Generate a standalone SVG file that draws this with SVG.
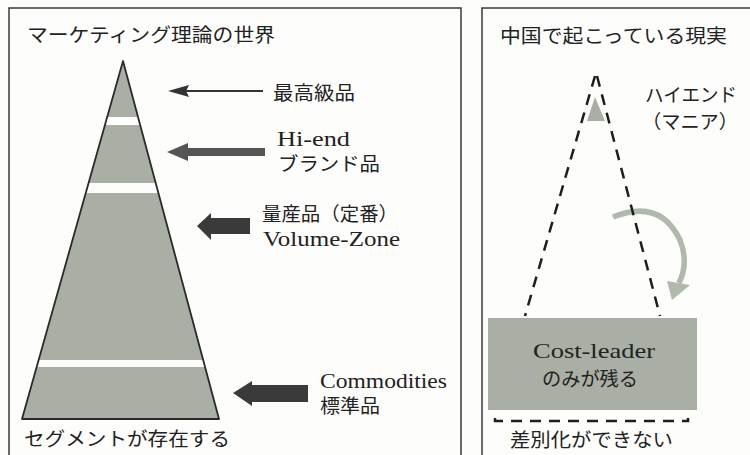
<svg xmlns="http://www.w3.org/2000/svg" width="750" height="455" viewBox="0 0 750 455">
<defs>
<style>
.frame{fill:none;stroke:#3a3a3a;stroke-width:1.5}
.jp{font-family:"Noto Sans CJK JP","Noto Sans",sans-serif;font-size:19px;fill:#222}
.en{font-family:"Liberation Serif","Noto Sans CJK JP",serif;font-size:22px;fill:#222}
.shade{fill:#a9afa5}
.dash{fill:none;stroke:#1e1e1e;stroke-width:2.5;stroke-dasharray:11 8}
</style>
<clipPath id="triClip"><polygon points="123,61 22,419 219,419"/></clipPath>
</defs>
<rect width="750" height="455" fill="#fdfdfb"/>

<g id="left-panel">
<path class="frame" d="M9,456 V8 H461 V456"/>
<text class="jp" x="27" y="42" textLength="248" lengthAdjust="spacingAndGlyphs">マーケティング理論の世界</text>
<text class="jp" x="24" y="446" textLength="206" lengthAdjust="spacingAndGlyphs">セグメントが存在する</text>
</g>

<g id="pyramid">
<polygon class="shade" points="123,61 22,419 219,419"/>
<g clip-path="url(#triClip)" fill="#fdfdfb">
<rect x="0" y="117" width="300" height="8"/>
<rect x="0" y="183" width="300" height="10"/>
<rect x="0" y="360" width="300" height="7"/>
</g>
<polygon points="123,61 22,419 219,419" fill="none" stroke="#2a2a2a" stroke-width="1.8" stroke-linejoin="round"/>
</g>

<g id="connectors">
<g id="arrow-top">
<line x1="263" y1="91" x2="186" y2="91" stroke="#333" stroke-width="2.2"/>
<polygon points="168,91 189,85 186,91 189,97" fill="#333"/>
</g>
<g id="arrow-hiend">
<rect x="185" y="148" width="80" height="8" fill="#555"/>
<polygon points="167,152 188,143 188,161" fill="#555"/>
</g>
<g id="arrow-volume">
<rect x="209" y="218" width="41" height="16" fill="#3a3a3a"/>
<polygon points="197,226 211,213 211,240" fill="#3a3a3a"/>
</g>
<g id="arrow-commodities">
<rect x="250" y="385" width="58" height="17" fill="#3a3a3a"/>
<polygon points="233,393 252,381 252,406" fill="#3a3a3a"/>
</g>
<g id="curved-arrow">
<path d="M613,217 Q660,198 680,240 Q689,263 679,283" fill="none" stroke="#b0b9ab" stroke-width="5.5"/>
<polygon points="667,281 690,285 672,300" fill="#b0b9ab"/>
</g>
</g>

<g id="label-top">
<text class="jp" x="273" y="100" textLength="82" lengthAdjust="spacingAndGlyphs">最高級品</text>
</g>
<g id="label-hiend">
<text class="en" x="277" y="146" textLength="73" lengthAdjust="spacingAndGlyphs">Hi-end</text>
<text class="jp" x="278" y="171" textLength="102" lengthAdjust="spacingAndGlyphs">ブランド品</text>
</g>
<g id="label-volume">
<text class="jp" x="262" y="221" textLength="136" lengthAdjust="spacingAndGlyphs">量産品（定番）</text>
<text class="en" x="263" y="246" textLength="137" lengthAdjust="spacingAndGlyphs">Volume-Zone</text>
</g>
<g id="label-commodities">
<text class="en" x="320" y="388" textLength="127" lengthAdjust="spacingAndGlyphs">Commodities</text>
<text class="jp" x="320" y="413" textLength="60" lengthAdjust="spacingAndGlyphs">標準品</text>
</g>

<g id="right-panel">
<path class="frame" d="M482,456 V8 H751"/>
<text class="jp" x="500" y="43" textLength="227" lengthAdjust="spacingAndGlyphs">中国で起こっている現実</text>
<text class="jp" x="510" y="447" textLength="163" lengthAdjust="spacingAndGlyphs">差別化ができない</text>
</g>

<g id="dashed-pyramid">
<polygon points="595,97 587,121 605,121" fill="#a9afa5"/>
<line class="dash" x1="595" y1="76" x2="525" y2="316"/>
<line class="dash" x1="597" y1="76" x2="660" y2="316"/>
</g>

<g id="label-hiend-mania">
<text class="jp" x="645" y="102" textLength="92" lengthAdjust="spacingAndGlyphs">ハイエンド</text>
<text class="jp" x="642" y="129" textLength="96" lengthAdjust="spacingAndGlyphs">（マニア）</text>
</g>

<g id="cost-leader">
<rect x="488" y="318" width="209" height="92" fill="#a9afa5"/>
<text class="en" x="533" y="358" textLength="122" lengthAdjust="spacingAndGlyphs" fill="#2e2e2e">Cost-leader</text>
<text class="jp" x="542" y="386" textLength="96" lengthAdjust="spacingAndGlyphs">のみが残る</text>
</g>

<g id="dashed-base">
<path d="M495,418 V421 H688 V418" class="dash"/>
</g>
</svg>
